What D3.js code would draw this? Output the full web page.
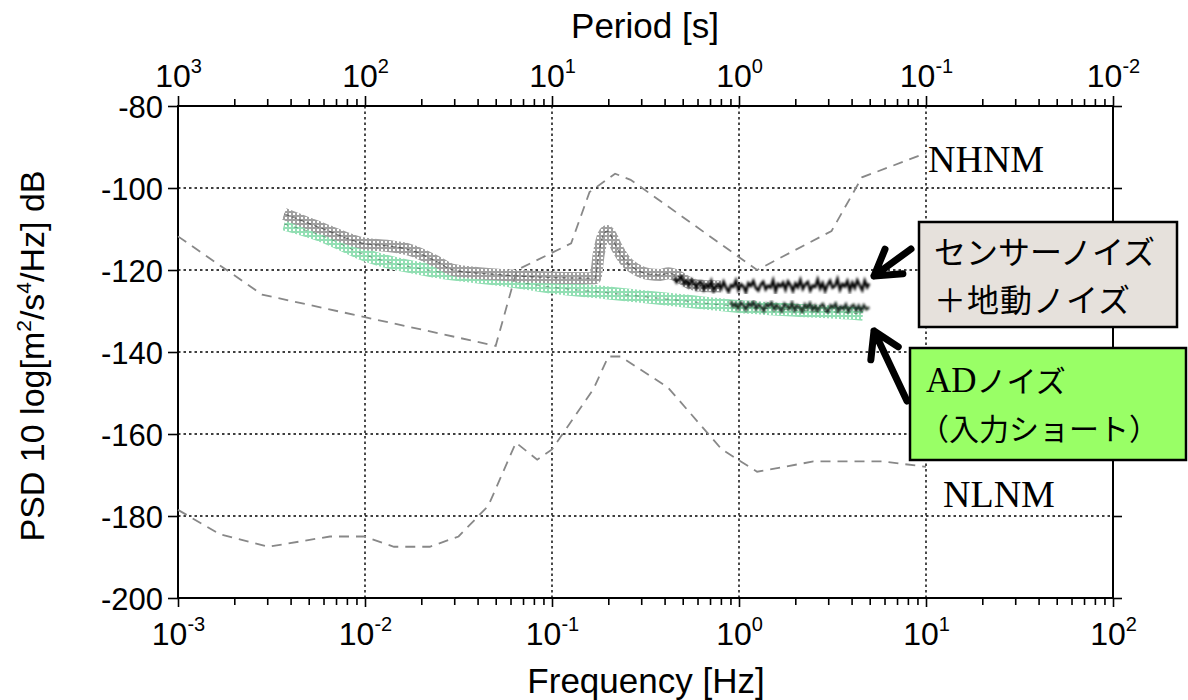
<!DOCTYPE html>
<html>
<head>
<meta charset="utf-8">
<script src="https://cdn.jsdelivr.net/npm/d3@7"></script>
<style>
  body { margin: 0; background: #fff; }
  text { font-family: "Liberation Sans", Arial, sans-serif; fill: #000; }
</style>
</head>
<body>
<svg id="chart" width="1188" height="700"></svg>
<script>
// ---- axis ticks ----
const freqTicks = [1e-3, 1e-2, 1e-1, 1, 10, 100];
const freqExp   = ["-3", "-2", "-1", "0", "1", "2"];
const periodExp = ["3", "2", "1", "0", "-1", "-2"];
const dbTicks   = [-80, -100, -120, -140, -160, -180, -200];

// ---- Peterson high / low noise models (frequency Hz, dB) ----
const nhnmFreq = [0.001, 0.002818, 0.05, 0.0649, 0.1266, 0.1587, 0.2174, 0.2632, 1.25, 3.125, 4.545, 10];
const nhnmDb   = [-111.8, -126.0, -138.5, -120.0, -113.5, -101.0, -96.5, -98.0, -120.0, -110.5, -97.4, -91.5];
const nlnmFreq = [0.001, 0.001667, 0.003049, 0.006494, 0.009901, 0.01429, 0.02222, 0.03165, 0.04566, 0.0641,
                  0.08333, 0.1, 0.1667, 0.2, 0.2326, 0.4167, 0.8065, 1.25, 2.5, 5.882, 10];
const nlnmDb   = [-178.5, -184.4, -187.5, -185.0, -185.0, -187.5, -187.5, -185.0, -177.5, -162.1,
                  -166.25, -163.75, -149.0, -141.1, -141.1, -148.65, -163.7, -169.2, -166.7, -166.7, -168.0];

// ---- sensor + ground noise (smoothed band) ----
const sensorFreq = [0.0037, 0.006, 0.01, 0.0131, 0.0174, 0.0243, 0.0296, 0.0547, 0.0832, 0.1656, 0.170,
                    0.178, 0.188, 0.197, 0.206, 0.222, 0.245, 0.28, 0.33, 0.38, 0.42, 0.47, 0.55, 0.65, 0.8];
const sensorDb   = [-106.3, -110.0, -113.6, -114.1, -115.1, -118.0, -120.0, -121.2, -121.7, -122.0, -122.0,
                    -116.0, -111.5, -110.5, -111.5, -114.5, -117.6, -119.8, -121.0, -121.2, -120.8, -121.5, -123.3, -123.9, -124.0];

// ---- sensor + ground noise, raw spectrum above 0.45 Hz ----
const sensorRawFreq = [0.45, 0.464, 0.478, 0.493, 0.508, 0.524, 0.54, 0.557, 0.574, 0.592, 0.61,
                       0.629, 0.648, 0.668, 0.689, 0.71, 0.732, 0.755, 0.778, 0.802,
                       0.827, 0.853, 0.879, 0.906, 0.934, 0.963, 0.993,
                       1.024, 1.056, 1.088, 1.122, 1.157, 1.193, 1.23, 1.268, 1.307, 1.347, 1.389, 1.432, 1.476,
                       1.522, 1.569, 1.618, 1.668, 1.72, 1.773, 1.828, 1.884, 1.943,
                       2.003, 2.065, 2.129, 2.195, 2.263, 2.333, 2.405, 2.479, 2.556, 2.635, 2.717, 2.801, 2.887, 2.977,
                       3.069, 3.164, 3.262, 3.363, 3.467, 3.574, 3.685, 3.799, 3.916,
                       4.037, 4.162, 4.291, 4.424, 4.561, 4.702, 4.847, 4.97];
const sensorRawDb   = [-121.8, -123.0, -122.2, -121.5, -123.4, -122.6, -123.9, -122.4, -123.1, -124.5,
                       -123.0, -122.9, -124.8, -123.6, -124.2, -122.7, -125.1, -123.9, -123.4, -124.6,
                       -122.9, -124.3, -125.3, -123.7, -124.1, -122.6, -124.9, -123.5, -124.0, -125.4,
                       -123.2, -123.9, -122.7, -124.4, -125.0, -123.6, -122.9, -124.7, -123.8, -124.3,
                       -122.5, -125.2, -123.4, -124.0, -123.1, -124.8, -122.8, -123.7, -125.1, -123.3,
                       -124.2, -122.4, -124.6, -123.5, -122.9, -125.0, -123.8, -124.1, -122.3, -124.5,
                       -123.2, -125.1, -123.6, -122.6, -124.3, -123.9, -122.2, -124.8, -123.4, -124.0,
                       -122.7, -125.0, -123.1, -124.4, -122.5, -123.8, -124.9, -122.6, -124.2, -123.3];

// ---- AD noise, input shorted (smoothed band) ----
const adFreq = [0.0037, 0.006, 0.01, 0.0243, 0.0547, 0.1, 0.2, 0.5, 1.0, 2.0, 3.9, 4.6];
const adDb   = [-108.8, -111.8, -116.3, -120.4, -122.4, -124.2, -125.6, -127.5, -128.9, -129.8, -130.5, -130.8];

// ---- AD noise, raw spectrum above 0.9 Hz ----
const adRawFreq = [0.9, 0.929, 0.959, 0.99, 1.021, 1.054, 1.088, 1.123, 1.159, 1.196,
                   1.234, 1.274, 1.315, 1.357, 1.4, 1.445, 1.492, 1.54, 1.589, 1.64,
                   1.693, 1.747, 1.803, 1.861, 1.921, 1.982, 2.046, 2.112, 2.179, 2.249,
                   2.322, 2.396, 2.473, 2.552, 2.634, 2.719, 2.806, 2.896, 2.989, 3.085,
                   3.184, 3.286, 3.391, 3.5, 3.612, 3.728, 3.848, 3.971, 4.099, 4.23,
                   4.366, 4.506, 4.651, 4.8, 4.97];
const adRawDb   = [-127.6, -128.9, -128.2, -129.4, -127.9, -128.6, -129.7, -128.1, -128.8, -127.7,
                   -129.5, -128.4, -129.0, -130.0, -128.3, -128.9, -127.9, -129.6, -128.5, -129.2,
                   -130.1, -128.2, -128.8, -129.5, -128.0, -129.9, -128.6, -129.1, -130.2, -128.4,
                   -129.3, -128.1, -129.8, -128.7, -130.0, -128.9, -128.3, -129.6, -130.3, -128.6,
                   -129.2, -128.2, -130.1, -128.9, -129.5, -128.4, -130.2, -129.0, -128.5, -129.9,
                   -128.7, -130.0, -128.6, -129.6, -129.1];

const zip = (fs, ds) => fs.map((f, i) => ({ f, db: ds[i] }));

const svg = d3.select("#chart");
const plotL = 178, plotR = 1113, plotT = 106, plotB = 598;

const x = d3.scaleLog().domain([1e-3, 1e2]).range([plotL, plotR]);
const y = d3.scaleLinear().domain([-200, -80]).range([plotB, plotT]);

// ---- mesh patterns for the hatched bands ----
const defs = svg.append("defs");
const mesh = (id, color) => {
  const p = defs.append("pattern").attr("id", id)
    .attr("width", 4).attr("height", 4).attr("patternUnits", "userSpaceOnUse");
  p.append("rect").attr("width", 4).attr("height", 4).attr("fill", color);
  p.append("rect").attr("x", 1).attr("y", 1).attr("width", 2).attr("height", 2).attr("fill", "#fff");
};
mesh("meshGray", "#a0a0a0");
mesh("meshGreen", "#93dfb4");
defs.append("filter").attr("id", "soft")
  .append("feGaussianBlur").attr("stdDeviation", 0.85);

// ---- grid ----
const grid = svg.append("g").attr("stroke", "#000").attr("stroke-width", 1.4).attr("stroke-dasharray", "2.5,3");
grid.selectAll("line.v").data(freqTicks.slice(1, -1)).join("line").attr("class", "v")
  .attr("x1", d => x(d)).attr("x2", d => x(d)).attr("y1", plotT).attr("y2", plotB);
grid.selectAll("line.h").data(dbTicks.slice(1, -1)).join("line").attr("class", "h")
  .attr("y1", d => y(d)).attr("y2", d => y(d)).attr("x1", plotL).attr("x2", plotR);

// ---- axes ----
const minor = x.ticks().filter(t => !freqTicks.some(m => Math.abs(m - t) / m < 1e-9));

const axB = svg.append("g").attr("transform", `translate(0,${plotB})`)
  .call(d3.axisBottom(x).tickValues(freqTicks).tickSize(9).tickFormat(() => ""));
svg.append("g").attr("transform", `translate(0,${plotB})`)
  .call(d3.axisBottom(x).tickValues(minor).tickSize(7).tickFormat(() => ""));
const axT = svg.append("g").attr("transform", `translate(0,${plotT})`)
  .call(d3.axisTop(x).tickValues(freqTicks).tickSize(10).tickFormat(() => ""));
svg.append("g").attr("transform", `translate(0,${plotT})`)
  .call(d3.axisTop(x).tickValues(minor).tickSize(7).tickFormat(() => ""));
const axL = svg.append("g").attr("transform", `translate(${plotL},0)`)
  .call(d3.axisLeft(y).tickValues(dbTicks).tickSize(10).tickFormat(() => ""));
svg.append("g").attr("transform", `translate(${plotR},0)`)
  .call(d3.axisRight(y).tickValues(dbTicks).tickSize(9).tickFormat(() => ""));
svg.selectAll(".domain").remove();
svg.selectAll(".tick line").attr("stroke", "#000").attr("stroke-width", 1.6);

// frame
svg.append("rect").attr("x", plotL).attr("y", plotT)
  .attr("width", plotR - plotL).attr("height", plotB - plotT)
  .attr("fill", "none").attr("stroke", "#000").attr("stroke-width", 2);

// power-of-ten tick labels
const powLabel = (g, exps, baseY) => {
  g.selectAll(".tick").each(function (d, i) {
    const t = d3.select(this).append("text")
      .attr("x", 0).attr("y", baseY).attr("text-anchor", "middle")
      .attr("font-size", 32).attr("fill", "#000");
    t.append("tspan").text("10");
    t.append("tspan").attr("font-size", 20).attr("dy", -14).text(exps[i]);
  });
};
powLabel(axB, freqExp, 47);
powLabel(axT, periodExp, -19);

axL.selectAll(".tick").append("text")
  .attr("x", -15).attr("y", 11).attr("text-anchor", "end")
  .attr("font-size", 31).attr("fill", "#000")
  .text(d => d);

// axis titles
svg.append("text").attr("x", 645).attr("y", 38).attr("text-anchor", "middle")
  .attr("font-size", 35).text("Period [s]");
svg.append("text").attr("x", 646).attr("y", 693).attr("text-anchor", "middle")
  .attr("font-size", 35).text("Frequency [Hz]");
const yl = svg.append("text").attr("transform", "translate(44,356) rotate(-90)")
  .attr("text-anchor", "middle").attr("font-size", 34);
yl.append("tspan").text("PSD 10 log[m");
yl.append("tspan").attr("font-size", 21).attr("dy", -13).text("2");
yl.append("tspan").attr("dy", 13).text("/s");
yl.append("tspan").attr("font-size", 21).attr("dy", -13).text("4");
yl.append("tspan").attr("dy", 13).text("/Hz] dB");

// ---- noise bands ----
const smooth = d3.line().x(d => x(d.f)).y(d => y(d.db)).curve(d3.curveMonotoneX);
const raw = d3.line().x(d => x(d.f)).y(d => y(d.db));

svg.append("path").datum(zip(adFreq, adDb)).attr("d", smooth)
  .attr("fill", "none").attr("stroke", "url(#meshGreen)").attr("stroke-width", 13);
svg.append("path").datum(zip(adFreq, adDb)).attr("d", smooth)
  .attr("fill", "none").attr("stroke", "#2f5a40").attr("stroke-width", 1)
  .attr("stroke-dasharray", "4,6").attr("opacity", 0.5);

svg.append("path").datum(zip(sensorFreq, sensorDb)).attr("d", smooth)
  .attr("fill", "none").attr("stroke", "url(#meshGray)").attr("stroke-width", 12);
svg.append("path").datum(zip(sensorFreq, sensorDb)).attr("d", smooth)
  .attr("fill", "none").attr("stroke", "#222").attr("stroke-width", 1.1)
  .attr("stroke-dasharray", "5,3").attr("opacity", 0.55);

svg.append("path").datum(zip(sensorRawFreq, sensorRawDb)).attr("d", raw)
  .attr("fill", "none").attr("stroke", "#000").attr("stroke-width", 2.6)
  .attr("filter", "url(#soft)");
svg.append("path").datum(zip(adRawFreq, adRawDb)).attr("d", raw)
  .attr("fill", "none").attr("stroke", "#0b1d13").attr("stroke-width", 2.4)
  .attr("filter", "url(#soft)");

// ---- noise models ----
const model = d3.line().x(d => x(d.f)).y(d => y(d.db));
[[nhnmFreq, nhnmDb], [nlnmFreq, nlnmDb]].forEach(([fs, ds]) => {
  svg.append("path").datum(zip(fs, ds)).attr("d", model)
    .attr("fill", "none").attr("stroke", "#888").attr("stroke-width", 1.8)
    .attr("stroke-dasharray", "10,7");
});
svg.append("text").attr("x", 928).attr("y", 172).attr("font-size", 38)
  .style("font-family", "'Liberation Serif', 'Times New Roman', serif").text("NHNM");
svg.append("text").attr("x", 943).attr("y", 507).attr("font-size", 38)
  .style("font-family", "'Liberation Serif', 'Times New Roman', serif").text("NLNM");

// ---- callouts ----
const arrow = (x1, y1, x2, y2) => {
  const a = Math.atan2(y1 - y2, x1 - x2), L = 29, s = 0.55;
  const p = d3.path();
  p.moveTo(x1, y1); p.lineTo(x2, y2);
  p.moveTo(x2 + L * Math.cos(a + s), y2 + L * Math.sin(a + s));
  p.lineTo(x2, y2);
  p.lineTo(x2 + L * Math.cos(a - s), y2 + L * Math.sin(a - s));
  svg.append("path").attr("d", p.toString()).attr("fill", "none")
    .attr("stroke", "#000").attr("stroke-width", 7)
    .attr("stroke-linecap", "round").attr("stroke-linejoin", "round");
};
arrow(911, 249, 874, 276);
arrow(907, 401, 874, 331);

const jp = "'Noto Sans CJK JP', 'Noto Sans', sans-serif";
svg.append("rect").attr("x", 919).attr("y", 222).attr("width", 258).attr("height", 105)
  .attr("fill", "#e6e1dc").attr("stroke", "#000").attr("stroke-width", 2.5);
svg.append("text").attr("x", 934).attr("y", 264).attr("font-size", 32)
  .style("font-family", jp).text("センサーノイズ");
svg.append("text").attr("x", 934).attr("y", 312).attr("font-size", 32)
  .attr("letter-spacing", 1).style("font-family", jp).text("＋地動ノイズ");

svg.append("rect").attr("x", 910).attr("y", 348).attr("width", 276).attr("height", 112)
  .attr("fill", "#99ff66").attr("stroke", "#000").attr("stroke-width", 2.5);
const ad = svg.append("text").attr("x", 926).attr("y", 392);
ad.append("tspan").attr("font-size", 35)
  .style("font-family", "'Liberation Serif', 'Times New Roman', serif").text("AD");
ad.append("tspan").attr("font-size", 30).style("font-family", jp).text("ノイズ");
svg.append("text").attr("x", 919).attr("y", 440).attr("font-size", 30)
  .style("font-family", jp).text("（入力ショート）");
</script>
</body>
</html>
